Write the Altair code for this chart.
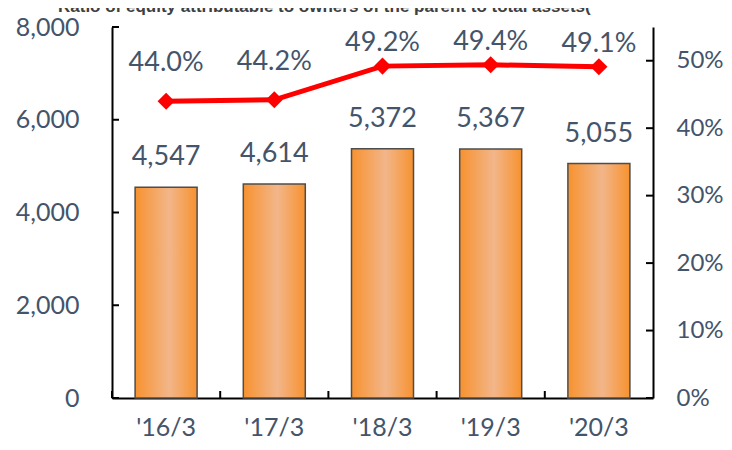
import altair as alt
import pandas as pd

categories = ["'16/3", "'17/3", "'18/3", "'19/3", "'20/3"]
equity = [4547, 4614, 5372, 5367, 5055]
ratio = [44.0, 44.2, 49.2, 49.4, 49.1]
left_ticks = [0, 2000, 4000, 6000, 8000]
right_ticks = [0, 10, 20, 30, 40, 50]
title_text = "Ratio of equity attributable to owners of the parent to total assets("

df = pd.DataFrame({"cat": categories, "equity": equity, "ratio": ratio})
df["ratio_label"] = [f"{v:.1f}%" for v in ratio]
df["idx"] = list(range(len(categories)))
ldf = pd.DataFrame({"v": left_ticks})
rdf = pd.DataFrame({"v": right_ticks})

W, H = 541, 371
FONT = "Lato"
TXT = "#44546A"

xenc = alt.X("cat:N", sort=categories, title=None,
             scale=alt.Scale(paddingInner=0, paddingOuter=0),
             axis=alt.Axis(domainColor="#000000", domainWidth=2, ticks=False,
                           labelFont=FONT, labelFontSize=25, labelColor=TXT,
                           labelPadding=17, labelAngle=0))
xs = alt.X("cat:N", sort=categories, title=None)

grad = alt.Gradient(
    gradient="linear",
    stops=[alt.GradientStop(color="#F7922F", offset=0),
           alt.GradientStop(color="#F2B68A", offset=0.55),
           alt.GradientStop(color="#F7922F", offset=1)],
    x1=0, x2=1, y1=0, y2=0)

yl = alt.Y("equity:Q", scale=alt.Scale(domain=[0, 8000]), title=None,
           axis=alt.Axis(orient="left", values=left_ticks, grid=False,
                         labelExpr="format(datum.value, ',')",
                         ticks=False, domainColor="#000000", domainWidth=2,
                         labelFont=FONT, labelFontSize=25, labelColor=TXT,
                         labelPadding=33))

bars = alt.Chart(df).mark_bar(size=62, color=grad, stroke="#4D4D4D",
                              strokeWidth=1.5).encode(x=xenc, y=yl)
bar_text = alt.Chart(df).mark_text(font=FONT, fontSize=27, color=TXT, dy=-30,
                                   baseline="middle").encode(
    x=xs, y=alt.Y("equity:Q", title=None),
    text=alt.Text("equity:Q", format=","))
lt = alt.Chart(ldf).mark_rule(color="#000000", strokeWidth=2).encode(
    y=alt.Y("v:Q", title=None), x=alt.value(0), x2=alt.value(7))
xt = alt.Chart(df).mark_rule(color="#000000", strokeWidth=2).encode(
    x=alt.X("cat:N", sort=categories, bandPosition=0, title=None),
    y=alt.value(H), y2=alt.value(H - 7))
ttl = alt.Chart(pd.DataFrame({"t": [title_text]})).mark_text(
    font="Liberation Sans", fontWeight="bold", fontSize=17, color="#404040",
    align="left", baseline="alphabetic").encode(
    text="t:N", x=alt.value(-54), y=alt.value(-15))

left = alt.layer(bars, bar_text, lt, xt, ttl)

yr = alt.Y("ratio:Q", scale=alt.Scale(domain=[0, 55]), title=None,
           axis=alt.Axis(orient="right", values=right_ticks, grid=False,
                         labelExpr="datum.value + '%'", ticks=False,
                         domainColor="#000000", domainWidth=2,
                         labelFont=FONT, labelFontSize=24, labelColor=TXT,
                         labelPadding=23))
line = alt.Chart(df).mark_line(color="#FF0000", strokeWidth=5).encode(
    x=xs, y=yr)
pts = alt.Chart(df).mark_point(shape="diamond", filled=True, size=290,
                               color="#FF0000", opacity=1).encode(
    x=xs, y=alt.Y("ratio:Q", title=None))
line_text_a = alt.Chart(df).transform_filter("datum.idx < 2").mark_text(
    font=FONT, fontSize=27, color=TXT, dy=-38, baseline="middle").encode(
    x=xs, y=alt.Y("ratio:Q", title=None), text="ratio_label:N")
line_text_b = alt.Chart(df).transform_filter("datum.idx >= 2").mark_text(
    font=FONT, fontSize=27, color=TXT, dy=-23, baseline="middle").encode(
    x=xs, y=alt.Y("ratio:Q", title=None), text="ratio_label:N")
rt = alt.Chart(rdf).mark_rule(color="#000000", strokeWidth=2).encode(
    y=alt.Y("v:Q", title=None), x=alt.value(W), x2=alt.value(W - 7))

right = alt.layer(line, pts, line_text_a, line_text_b, rt)

chart = alt.layer(left, right).resolve_scale(y="independent").properties(
    width=W, height=H,
    autosize=alt.AutoSizeParams(type="none"),
    padding={"left": 104, "top": 19, "right": 71, "bottom": 44},
).configure_view(stroke=None)

chart.save("out.html", embed_options={"renderer": "svg", "actions": False})
